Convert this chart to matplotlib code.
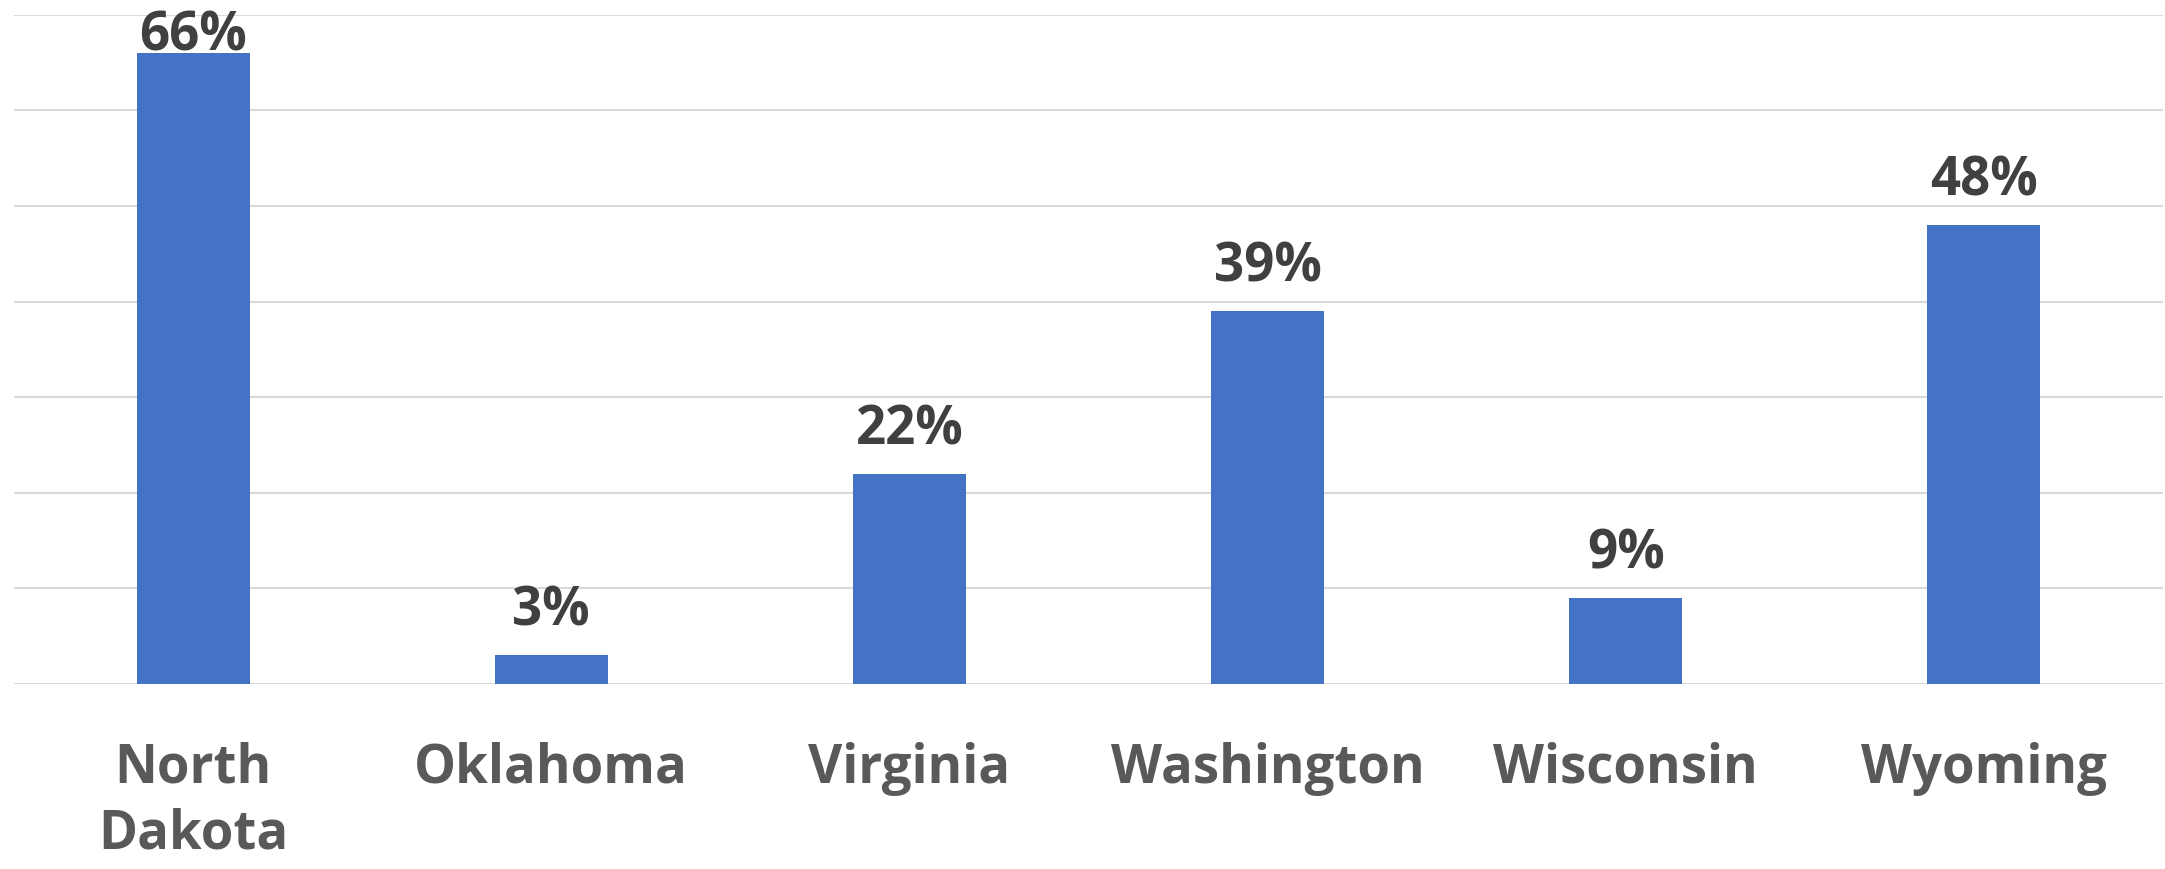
import numpy as np
import matplotlib.pyplot as plt

states = ["North\nDakota", "Oklahoma", "Virginia", "Washington", "Wisconsin", "Wyoming"]
values = [66, 3, 22, 39, 9, 48]

plt.rcParams['font.family'] = ['Open Sans', 'DejaVu Sans']

fig = plt.figure(figsize=(21.65, 8.69), dpi=100)
ax = fig.add_axes([0.0065, 0.2129, 0.9925, 0.7701])

x = np.arange(len(states))
ax.bar(x, values, width=0.315, color="#4472C4", zorder=3)

ax.set_xlim(-0.5, len(states) - 0.5)
ax.set_ylim(0, 70)
ax.set_yticks(np.arange(0, 71, 10))
ax.yaxis.grid(True, color="#d9d9d9", linewidth=1.5, zorder=0)
ax.tick_params(axis='y', left=False, labelleft=False)
ax.tick_params(axis='x', bottom=False, pad=38)
ax.set_xticks(x)
ax.set_xticklabels(states, fontsize=38, fontweight='bold', color="#595959", linespacing=1.3)
for s in ax.spines.values():
    s.set_visible(False)

for xi, v in zip(x, values):
    ax.text(xi, min(v + 3.1, 66.3), f"{v}%", ha='center', va='baseline',
            fontsize=38, fontweight='bold', color="#404040", zorder=4, clip_on=False)

fig.savefig("out.png", dpi=100)
